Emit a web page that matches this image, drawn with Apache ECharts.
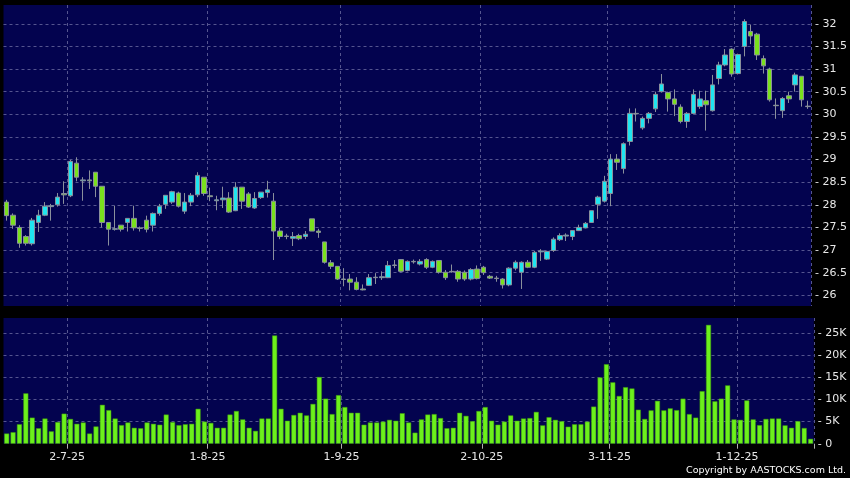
<!DOCTYPE html>
<html><head><meta charset="utf-8">
<script src="https://cdn.jsdelivr.net/npm/echarts@6/dist/echarts.min.js"></script>
<style>html,body{margin:0;padding:0;background:#000;}#c{width:850px;height:478px;}</style>
</head><body><div id="c"></div>
<script>
const dates = [
"18-6-25","19-6-25","20-6-25","23-6-25","24-6-25","25-6-25","26-6-25","27-6-25","30-6-25",
"2-7-25","3-7-25","4-7-25","7-7-25","8-7-25","9-7-25","10-7-25","11-7-25","14-7-25","15-7-25","16-7-25","17-7-25","18-7-25","21-7-25","22-7-25","23-7-25","24-7-25","25-7-25","28-7-25","29-7-25","30-7-25","31-7-25",
"1-8-25","4-8-25","5-8-25","6-8-25","7-8-25","8-8-25","11-8-25","12-8-25","13-8-25","14-8-25","15-8-25","18-8-25","19-8-25","20-8-25","21-8-25","22-8-25","25-8-25","26-8-25","27-8-25","28-8-25","29-8-25",
"1-9-25","2-9-25","3-9-25","4-9-25","5-9-25","8-9-25","9-9-25","10-9-25","11-9-25","12-9-25","15-9-25","16-9-25","17-9-25","18-9-25","19-9-25","22-9-25","23-9-25","24-9-25","25-9-25","26-9-25","29-9-25","30-9-25",
"2-10-25","3-10-25","6-10-25","8-10-25","9-10-25","10-10-25","13-10-25","14-10-25","15-10-25","16-10-25","17-10-25","20-10-25","21-10-25","22-10-25","23-10-25","24-10-25","27-10-25","28-10-25","30-10-25","31-10-25",
"3-11-25","4-11-25","5-11-25","6-11-25","7-11-25","10-11-25","11-11-25","12-11-25","13-11-25","14-11-25","17-11-25","18-11-25","19-11-25","20-11-25","21-11-25","24-11-25","25-11-25","26-11-25","27-11-25","28-11-25",
"1-12-25","2-12-25","3-12-25","4-12-25","5-12-25","8-12-25","9-12-25","10-12-25","11-12-25","12-12-25","15-12-25","16-12-25","17-12-25"
];
const open = [28.06,27.77,27.50,27.30,27.14,27.61,27.77,27.96,28.00,28.25,28.20,28.92,28.53,28.55,28.72,28.41,27.61,27.46,27.55,27.61,27.70,27.49,27.66,27.55,27.81,28.01,28.06,28.26,27.86,28.06,28.22,28.61,
28.20,28.09,28.11,28.15,27.87,28.39,28.24,27.93,28.16,28.27,28.08,27.42,27.31,27.26,27.32,27.30,27.69,27.42,27.18,26.72,26.64,26.36,26.36,26.29,26.14,26.22,26.39,26.39,26.39,26.67,26.79,26.55,
26.75,26.69,26.79,26.62,26.77,26.51,26.53,26.53,26.51,26.36,26.58,26.62,26.42,26.38,26.36,26.23,26.60,26.51,26.73,26.62,26.96,26.80,26.99,27.23,27.31,27.30,27.43,27.49,27.61,28.01,28.08,28.25,
29.01,28.80,29.40,30.02,29.70,29.91,30.12,30.50,30.48,30.34,30.16,29.84,30.02,30.17,30.30,30.08,30.79,31.09,31.44,30.90,31.50,31.83,31.77,31.23,31.00,30.20,30.08,30.41,30.65,30.84,30.18];
const close = [27.76,27.55,27.15,27.15,27.66,27.77,27.97,27.98,28.17,28.22,28.96,28.61,28.55,28.53,28.41,27.61,27.46,27.47,27.46,27.70,27.49,27.48,27.46,27.81,27.97,28.21,28.29,27.97,28.06,28.21,28.65,28.25,
28.18,28.11,28.15,27.84,28.39,28.08,27.95,28.14,28.28,28.33,27.42,27.30,27.30,27.30,27.25,27.35,27.42,27.39,26.73,26.64,26.36,26.35,26.29,26.13,26.12,26.39,26.40,26.41,26.66,26.66,26.53,26.75,
26.74,26.75,26.62,26.75,26.51,26.39,26.52,26.36,26.36,26.57,26.37,26.50,26.38,26.37,26.23,26.60,26.73,26.73,26.62,26.95,26.98,26.97,27.24,27.32,27.33,27.43,27.50,27.59,27.87,28.17,28.52,29.01,
28.94,29.35,30.02,30.01,29.91,30.02,30.44,30.67,30.34,30.22,29.84,30.02,30.44,30.34,30.21,30.65,31.09,31.31,30.89,31.32,32.05,31.73,31.31,31.07,30.32,30.19,30.35,30.34,30.87,30.32,30.17];
const low = [27.65,27.47,27.05,27.10,27.10,27.40,27.75,27.65,27.96,28.02,28.17,28.52,28.09,28.35,28.17,27.50,27.10,27.43,27.41,27.41,27.43,27.41,27.39,27.41,27.76,27.91,28.02,27.94,27.80,27.97,28.17,28.20,
28.08,27.88,27.93,27.82,27.86,27.91,27.93,27.91,28.13,28.16,26.78,27.24,27.24,27.09,27.22,27.24,27.42,27.27,26.70,26.58,26.34,26.20,26.11,26.11,26.11,26.21,26.25,26.34,26.38,26.60,26.51,26.53,
26.70,26.66,26.58,26.60,26.48,26.34,26.50,26.30,26.32,26.33,26.35,26.45,26.36,26.30,26.15,26.20,26.55,26.14,26.60,26.60,26.76,26.78,26.96,27.20,27.20,27.22,27.42,27.48,27.60,27.69,28.05,27.97,
28.77,28.69,29.31,29.84,29.66,29.80,30.05,30.48,30.06,29.96,29.80,29.70,30.00,30.12,29.64,30.06,30.66,31.06,30.83,30.88,31.28,31.55,31.20,30.90,30.28,29.90,29.92,30.25,30.50,30.17,30.12];
const high = [28.11,27.81,27.55,27.33,27.71,27.89,28.06,28.02,28.26,28.52,28.99,29.05,28.61,28.76,28.72,28.41,27.61,27.98,27.55,27.70,27.98,27.52,27.76,27.83,28.02,28.21,28.31,28.29,28.26,28.26,28.72,28.61,
28.38,28.20,28.40,28.28,28.50,28.39,28.28,28.28,28.28,28.53,28.26,27.49,27.36,27.40,27.36,27.42,27.69,27.47,27.18,26.78,26.64,26.60,26.47,26.40,26.24,26.47,26.49,26.53,26.76,26.78,26.80,26.77,
26.79,26.80,26.82,26.77,26.77,26.56,26.68,26.56,26.55,26.60,26.66,26.65,26.45,26.43,26.38,26.62,26.77,26.75,26.78,26.98,27.02,26.98,27.28,27.37,27.37,27.43,27.56,27.62,27.87,28.20,28.64,29.12,
29.12,29.38,30.13,30.13,29.95,30.05,30.50,30.89,30.50,30.55,30.22,30.05,30.55,30.52,30.52,30.87,31.16,31.44,31.46,31.34,32.10,31.98,31.80,31.30,31.03,30.35,30.38,30.50,30.92,30.84,30.30];
const volume = [2300,2600,4400,11400,5900,3500,5700,2800,4900,6800,5600,4500,4800,2300,3900,8800,7600,5700,4200,4800,3600,3500,4800,4500,4300,6600,4900,4200,4400,4500,7900,5000,
4700,3600,3600,6600,7400,5500,3600,2900,5700,5700,24500,7900,5200,6500,7000,6400,9000,15100,10200,6700,11000,8300,7000,7000,4300,4800,4800,5000,5400,5200,6900,4800,
2500,5500,6600,6700,5800,3500,3600,7000,6300,5100,7400,8300,5200,4300,5000,6400,5200,5700,5800,7200,4150,6000,5400,5100,3850,4400,4400,5000,8400,15000,18000,13900,
10800,12800,12500,7700,5600,7550,9700,7550,8000,7600,10200,6700,5900,11900,26900,9600,10200,13200,5500,5400,9800,5500,4200,5600,5700,5700,4150,3600,5100,3550,1100];

// first trading day of each month (after the first month) gets a label
const monthStarts = new Set();
dates.forEach((d, i) => { if (i > 0 && d.split('-')[1] !== dates[i - 1].split('-')[1]) monthStarts.add(i); });

const NAVY = '#03034f';
const GRIDC = '#55558f';
const UP = '#1fe5f0', DOWN = '#7ae11d', EDGE = '#8a909c';
const TXT = '#e8e8e8';
const FONT = 'DejaVu Sans';

const candles = dates.map((d, i) => [open[i], close[i], low[i], high[i]]);

function splitColors(n) { const a = []; for (let i = 0; i < n; i++) a.push(i === 0 || i === n - 1 ? 'rgba(0,0,0,0)' : GRIDC); return a; }
const vSplit = (idx) => monthStarts.has(idx - 1);

const chart = echarts.init(document.getElementById('c'), null, { renderer: 'canvas' });
chart.setOption({
  animation: false,
  backgroundColor: '#000000',
  grid: [
    { left: 3.5, right: 36.2, top: 5, height: 301, show: true, backgroundColor: NAVY, borderWidth: 0 },
    { left: 3.5, right: 36.2, top: 318, height: 125.7, show: true, backgroundColor: NAVY, borderWidth: 0 }
  ],
  xAxis: [
    { type: 'category', gridIndex: 0, data: dates, boundaryGap: true,
      axisLine: { show: false }, axisTick: { show: false }, axisLabel: { show: false },
      splitLine: { show: true, interval: vSplit, lineStyle: { color: GRIDC, type: [3, 3], width: 1 } } },
    { type: 'category', gridIndex: 1, data: dates, boundaryGap: true, offset: 2,
      axisLine: { show: false },
      axisTick: { show: true, interval: vSplit, length: 5, lineStyle: { color: '#b0b0b0' } },
      axisLabel: { show: true, interval: (idx) => monthStarts.has(idx), margin: 6, color: TXT, fontSize: 11, fontFamily: FONT, padding: [0, 0, 0, 6] },
      splitLine: { show: true, interval: vSplit, lineStyle: { color: GRIDC, type: [3, 3], width: 1 } } }
  ],
  yAxis: [
    { type: 'value', gridIndex: 0, position: 'right', scale: true, min: 25.764, max: 32.415,
      minInterval: 0.5, maxInterval: 0.5, splitNumber: 13,
      axisLine: { show: false }, axisTick: { show: false },
      axisLabel: { show: true, margin: 4, color: TXT, fontSize: 11, fontFamily: FONT, showMinLabel: false, showMaxLabel: false,
        formatter: (v) => '- ' + v },
      splitLine: { show: true, lineStyle: { color: splitColors(15), type: [3, 3], width: 1 } } },
    { type: 'value', gridIndex: 1, position: 'right', min: 0, max: 28460,
      minInterval: 5000, maxInterval: 5000, splitNumber: 6,
      axisLine: { show: false }, axisTick: { show: false },
      axisLabel: { show: true, margin: 4, color: TXT, fontSize: 11, fontFamily: FONT, showMinLabel: true, showMaxLabel: false,
        formatter: (v) => '- ' + (v === 0 ? '0' : (v / 1000) + 'K') },
      splitLine: { show: true, lineStyle: { color: splitColors(7), type: [3, 3], width: 1 } } }
  ],
  series: [
    { type: 'candlestick', xAxisIndex: 0, yAxisIndex: 0, data: candles, barWidth: 5,
      itemStyle: { color: UP, color0: DOWN, borderColor: EDGE, borderColor0: EDGE, borderWidth: 1 } },
    { type: 'bar', xAxisIndex: 1, yAxisIndex: 1, data: volume, barWidth: 5,
      itemStyle: { color: '#6cf01c', borderColor: '#3f9a0c', borderWidth: 0.5 } }
  ],
  graphic: [
    { type: 'text', x: 846, y: 470.5, style: { text: 'Copyright by AASTOCKS.com Ltd.', fill: '#ffffff', font: '9.5px "DejaVu Sans"', textAlign: 'right', textVerticalAlign: 'middle' } }
  ]
});
</script></body></html>
